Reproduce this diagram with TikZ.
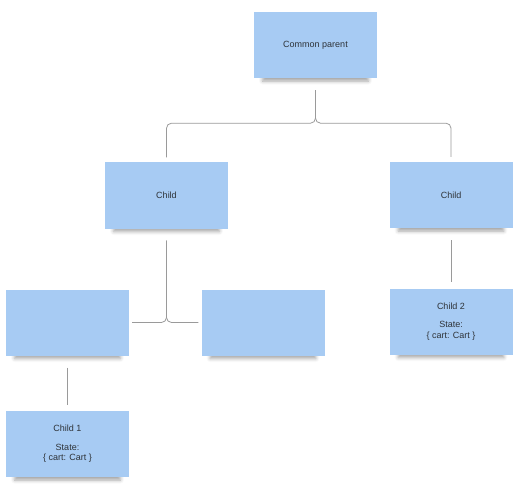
\documentclass[tikz,border=0pt]{standalone}
\usepackage{fontspec}
\setmainfont{Liberation Sans}
\usetikzlibrary{shadows.blur}
\definecolor{noteFill}{HTML}{A7CBF3}
\definecolor{noteText}{HTML}{2E3338}
\definecolor{linkStroke}{HTML}{9A9A9A}

\begin{document}
\begin{tikzpicture}[
    x=1pt, y=-1pt,
    font=\fontsize{9}{10.5}\selectfont,
    stickyNote/.style={
        rectangle,
        fill=noteFill,
        text=noteText,
        minimum width=123pt, minimum height=66pt,
        inner sep=0pt,
        align=center,
        blur shadow={shadow xshift=0pt, shadow yshift=-9pt,
                     shadow scale=0.86, shadow blur radius=4pt,
                     shadow opacity=35}
    },
    link/.style={draw=linkStroke, line width=0.8pt, rounded corners=5pt}
]
\useasboundingbox (0,0) rectangle (521,486);

% Layout plan: parent on top, two children, then the grandchildren
\node[stickyNote] (Parent) at (315.5,45) {Common parent};

\node[stickyNote] (ChildL) at (166.5,195.5) {Child};
\node[stickyNote] (ChildR) at (451,195) {Child};

\node[stickyNote] (BoxA) at (67.5,322.5) {};
\node[stickyNote] (BoxB) at (263,322.5) {};
\node[stickyNote] (ChildTwo) at (451,321.5)
  {Child 2\\[8pt]State:\\\{ cart: Cart \}};

\node[stickyNote] (ChildOne) at (67.5,444)
  {Child 1\\[8pt]State:\\\{ cart: Cart \}};

\draw[link, shorten <=12pt, shorten >=5pt]
  (Parent.south) -- ++(0,45) -| (ChildL.north);
\draw[link, shorten <=12pt, shorten >=5pt]
  (Parent.south) -- ++(0,45) -| (ChildR.north);
\draw[link, shorten <=12pt, shorten >=3pt] (ChildL.south) |- (BoxA.east);
\draw[link, shorten <=12pt, shorten >=3pt] (ChildL.south) |- (BoxB.west);
\draw[link, shorten <=12pt, shorten >=6pt] (ChildR.south) -- (ChildTwo.north);
\draw[link, shorten <=12pt, shorten >=6pt] (BoxA.south) -- (ChildOne.north);

\end{tikzpicture}
\end{document}
